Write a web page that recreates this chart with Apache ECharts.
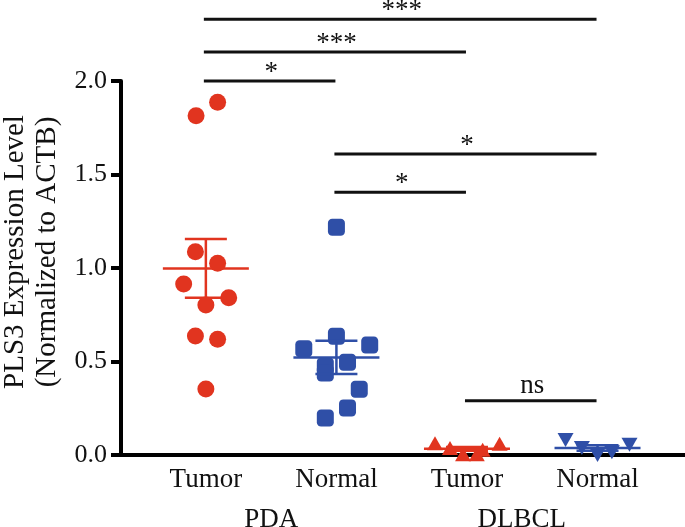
<!DOCTYPE html>
<html>
<head>
<meta charset="utf-8">
<script src="https://cdn.jsdelivr.net/npm/echarts@6/dist/echarts.min.js"></script>
<style>
html,body{margin:0;padding:0;background:#fff;}
#chart{width:685px;height:527px;}
</style>
</head>
<body>
<div id="chart"></div>
<script>
// ---- data ----
const categories = ['Tumor', 'Normal', 'Tumor', 'Normal'];
const groups = ['PDA', 'DLBCL'];
const yTicks = [0, 0.5, 1.0, 1.5, 2.0];

// PDA Tumor (red circles)
const pdaTumorY  = [1.814, 1.886, 1.087, 1.025, 0.914, 0.841, 0.802, 0.636, 0.619, 0.353];
const pdaTumorDx = [-0.075, 0.09, -0.08, 0.09, -0.17, 0.175, 0.0, -0.08, 0.09, 0.0];
// PDA Normal (blue squares)
const pdaNormalY  = [1.218, 0.568, 0.635, 0.588, 0.496, 0.476, 0.438, 0.351, 0.252, 0.198];
const pdaNormalDx = [0.0, -0.25, 0.0, 0.255, 0.085, -0.085, -0.085, 0.175, 0.085, -0.085];
// DLBCL Tumor (red up-triangles)
const dlTumorY  = [0.063, 0.038, 0.004, 0.004, 0.028, 0.06];
const dlTumorDx = [-0.245, -0.13, -0.03, 0.075, 0.12, 0.25];
// DLBCL Normal (blue down-triangles)
const dlNormalY  = [0.08, 0.037, 0.0, 0.015, 0.055];
const dlNormalDx = [-0.245, -0.12, 0.0, 0.11, 0.245];

// significance brackets
const bracketFrom  = [1, 1, 1, 2, 2, 3];
const bracketTo    = [4, 3, 2, 4, 3, 4];
const bracketY     = [2.33, 2.155, 2.0, 1.61, 1.405, 0.29];
const bracketLabel = ['***', '***', '*', '*', '*', 'ns'];

// ---- helpers ----
const RED = '#E1341F';
const BLUE = '#2F4FA7';
const FONT = '"Liberation Serif", "Times New Roman", serif';

function pts(cat, ys, dxs) { return ys.map((y, i) => [cat + dxs[i], y]); }
function meanSem(ys) {
  const n = ys.length;
  const m = ys.reduce((a, b) => a + b, 0) / n;
  const v = ys.reduce((a, b) => a + (b - m) * (b - m), 0) / (n - 1);
  return [m, Math.sqrt(v) / Math.sqrt(n)];
}
const sets = [pdaTumorY, pdaNormalY, dlTumorY, dlNormalY];
const colors = [RED, BLUE, RED, BLUE];
const errData = sets.map((ys, i) => { const ms = meanSem(ys); return [i + 1, ms[0], ms[1]]; });
const bracketData = bracketFrom.map((f, i) => [f, bracketTo[i], bracketY[i], bracketLabel[i]]);

const chart = echarts.init(document.getElementById('chart'), null, { renderer: 'canvas' });

const option = {
  animation: false,
  backgroundColor: '#fff',
  grid: { left: 121, right: 0, top: 81, bottom: 72, containLabel: false, outerBoundsMode: 'none' },
  xAxis: [
    {
      type: 'value', min: 0.35, max: 4.67,
      axisLine: { show: true, lineStyle: { color: '#000', width: 4 } },
      axisTick: { show: false },
      splitLine: { show: false },
      axisLabel: {
        customValues: [1, 2, 3, 4],
        formatter: v => categories[Math.round(v) - 1],
        fontFamily: FONT, fontSize: 27, color: '#111', margin: 11
      }
    },
    {
      type: 'value', min: 0.35, max: 4.67, position: 'bottom', offset: 40,
      axisLine: { show: false }, axisTick: { show: false }, splitLine: { show: false },
      axisLabel: {
        customValues: [1.5, 3.42],
        formatter: v => (v < 2.5 ? groups[0] : groups[1]),
        fontFamily: FONT, fontSize: 27, color: '#111', margin: 11
      }
    }
  ],
  yAxis: {
    type: 'value', min: yTicks[0], max: yTicks[yTicks.length - 1], interval: 0.5,
    axisLine: { show: true, lineStyle: { color: '#000', width: 4 } },
    axisTick: { show: true, length: 10, lineStyle: { color: '#000', width: 4 } },
    splitLine: { show: false },
    axisLabel: {
      formatter: v => v.toFixed(1),
      fontFamily: FONT, fontSize: 26, color: '#111', margin: 14
    }
  },
  graphic: [{
    type: 'text',
    x: 31, y: 252,
    rotation: Math.PI / 2,
    style: {
      text: 'PLS3 Expression Level\n(Normalized to ACTB)',
      font: '29px ' + FONT,
      fill: '#111',
      textAlign: 'center',
      textVerticalAlign: 'middle',
      lineHeight: 32
    }
  }],
  series: [
    { type: 'scatter', clip: false, z: 3, symbol: 'circle', symbolSize: 17,
      itemStyle: { color: RED, opacity: 1 }, data: pts(1, pdaTumorY, pdaTumorDx) },
    { type: 'scatter', clip: false, z: 3, symbol: 'roundRect', symbolSize: 17,
      itemStyle: { color: BLUE, opacity: 1 }, data: pts(2, pdaNormalY, pdaNormalDx) },
    { type: 'scatter', clip: false, z: 3, symbol: 'triangle', symbolSize: [16, 14],
      itemStyle: { color: RED, opacity: 1 }, data: pts(3, dlTumorY, dlTumorDx) },
    { type: 'scatter', clip: false, z: 3, symbol: 'triangle', symbolRotate: 180, symbolSize: [16, 14],
      itemStyle: { color: BLUE, opacity: 1 }, data: pts(4, dlNormalY, dlNormalDx) },
    {
      type: 'custom', clip: false, z: 4,
      data: errData,
      encode: { x: 0, y: 1 },
      renderItem: function (params, api) {
        const cat = api.value(0), m = api.value(1), s = api.value(2);
        const c = api.coord([cat, m]);
        const top = api.coord([cat, m + s]);
        const bot = api.coord([cat, m - s]);
        const col = colors[params.dataIndex];
        const st = { stroke: col, lineWidth: 2.5 };
        const meanHalf = 43, capHalf = 21;
        return {
          type: 'group',
          children: [
            { type: 'line', shape: { x1: c[0] - meanHalf, y1: c[1], x2: c[0] + meanHalf, y2: c[1] }, style: st },
            { type: 'line', shape: { x1: c[0], y1: top[1], x2: c[0], y2: bot[1] }, style: st },
            { type: 'line', shape: { x1: c[0] - capHalf, y1: top[1], x2: c[0] + capHalf, y2: top[1] }, style: st },
            { type: 'line', shape: { x1: c[0] - capHalf, y1: bot[1], x2: c[0] + capHalf, y2: bot[1] }, style: st }
          ]
        };
      }
    },
    {
      type: 'custom', clip: false, z: 4,
      data: bracketData,
      encode: { x: [0, 1], y: 2 },
      renderItem: function (params, api) {
        const f = api.value(0), t = api.value(1), y = api.value(2);
        const lab = bracketLabel[params.dataIndex];
        const p1 = api.coord([f, y]);
        const p2 = api.coord([t, y]);
        const dy = lab === 'ns' ? -14.5 : -8;
        return {
          type: 'group',
          children: [
            { type: 'line', shape: { x1: p1[0] - 2, y1: p1[1], x2: p2[0] - 1, y2: p2[1] },
              style: { stroke: '#111', lineWidth: 3 } },
            { type: 'text', x: (p1[0] + p2[0]) / 2, y: p1[1] + dy,
              style: { text: lab, font: '27px ' + FONT, fill: '#111',
                       textAlign: 'center', textVerticalAlign: 'middle' } }
          ]
        };
      }
    }
  ]
};
chart.setOption(option);
</script>
</body>
</html>
